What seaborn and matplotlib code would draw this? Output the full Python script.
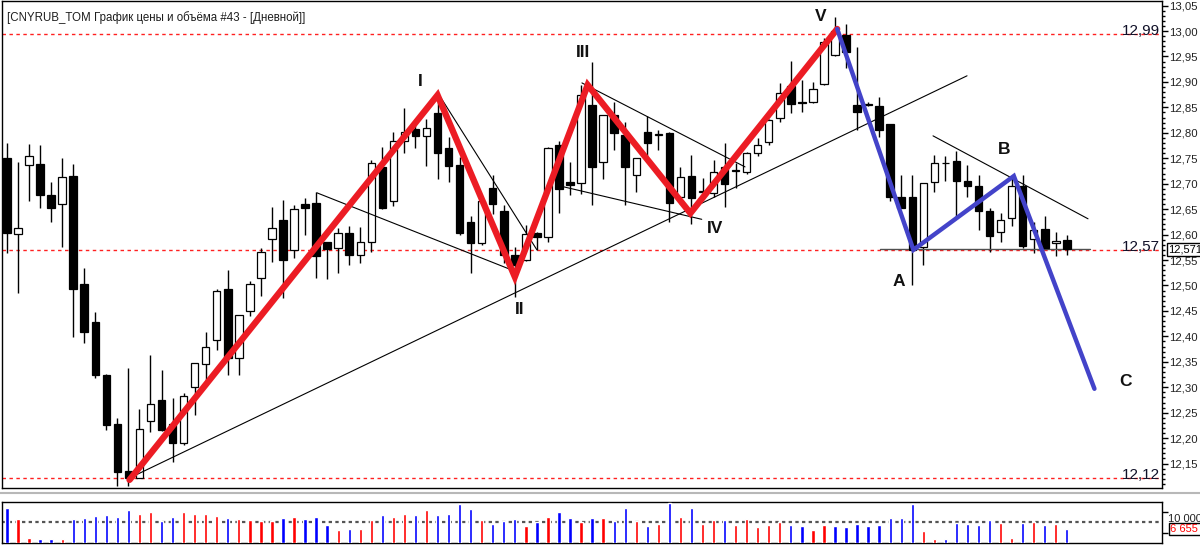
import numpy as np
import pandas as pd
import matplotlib
matplotlib.use("Agg")
import matplotlib.pyplot as plt
import matplotlib.transforms as mtransforms
from matplotlib.lines import Line2D
import seaborn as sns

# ---------------- data ----------------
opens = [12.750, 12.601, 12.737, 12.739, 12.677, 12.661, 12.715, 12.502, 12.428, 12.324,
         12.227, 12.136, 12.121, 12.234, 12.275, 12.227, 12.191, 12.300, 12.346, 12.393,
         12.493, 12.357, 12.450, 12.514, 12.591, 12.629, 12.570, 12.661, 12.663, 12.586,
         12.573, 12.603, 12.559, 12.585, 12.732, 12.665, 12.783, 12.807, 12.794, 12.838,
         12.771, 12.737, 12.625, 12.583, 12.692, 12.646, 12.559, 12.550, 12.603, 12.596,
         12.776, 12.704, 12.701, 12.854, 12.742, 12.835, 12.796, 12.718, 12.801, 12.796,
         12.799, 12.674, 12.716, 12.683, 12.682, 12.733, 12.724, 12.722, 12.761, 12.781,
         12.830, 12.891, 12.861, 12.860, 12.895, 12.953, 12.992, 12.855, 12.857, 12.853,
         12.817, 12.673, 12.673, 12.576, 12.703, 12.741, 12.745, 12.705, 12.696, 12.646,
         12.606, 12.633, 12.695, 12.591, 12.611, 12.583, 12.589]
highs = [12.779, 12.743, 12.778, 12.776, 12.703, 12.750, 12.738, 12.535, 12.447, 12.327,
         12.239, 12.337, 12.257, 12.363, 12.334, 12.278, 12.288, 12.348, 12.408, 12.493,
         12.530, 12.441, 12.509, 12.573, 12.654, 12.668, 12.658, 12.671, 12.684, 12.586,
         12.612, 12.616, 12.614, 12.747, 12.773, 12.802, 12.848, 12.827, 12.828, 12.878,
         12.792, 12.753, 12.637, 12.668, 12.717, 12.658, 12.576, 12.619, 12.606, 12.773,
         12.783, 12.743, 12.894, 12.940, 12.835, 12.861, 12.822, 12.750, 12.833, 12.806,
         12.801, 12.733, 12.756, 12.711, 12.747, 12.779, 12.740, 12.763, 12.789, 12.827,
         12.897, 12.941, 12.904, 12.900, 12.986, 13.028, 13.013, 12.969, 12.860, 12.871,
         12.817, 12.718, 12.718, 12.702, 12.756, 12.754, 12.765, 12.737, 12.718, 12.653,
         12.642, 12.715, 12.717, 12.625, 12.637, 12.606, 12.599]
lows = [12.563, 12.485, 12.666, 12.652, 12.625, 12.575, 12.399, 12.386, 12.318, 12.216,
        12.105, 12.105, 12.121, 12.213, 12.214, 12.154, 12.187, 12.246, 12.311, 12.373,
        12.324, 12.324, 12.440, 12.479, 12.547, 12.475, 12.553, 12.599, 12.514, 12.512,
        12.524, 12.540, 12.545, 12.566, 12.650, 12.656, 12.760, 12.770, 12.735, 12.709,
        12.704, 12.599, 12.524, 12.580, 12.640, 12.545, 12.478, 12.548, 12.570, 12.585,
        12.642, 12.678, 12.680, 12.658, 12.709, 12.766, 12.658, 12.683, 12.753, 12.766,
        12.625, 12.661, 12.621, 12.681, 12.674, 12.655, 12.691, 12.720, 12.754, 12.777,
        12.821, 12.838, 12.841, 12.858, 12.893, 12.950, 12.927, 12.806, 12.852, 12.792,
        12.665, 12.653, 12.500, 12.540, 12.684, 12.706, 12.635, 12.674, 12.609, 12.566,
        12.586, 12.616, 12.573, 12.563, 12.573, 12.557, 12.560]
closes = [12.603, 12.612, 12.754, 12.677, 12.652, 12.713, 12.494, 12.409, 12.324, 12.226,
          12.133, 12.121, 12.217, 12.267, 12.216, 12.191, 12.282, 12.347, 12.380, 12.489,
          12.357, 12.441, 12.502, 12.566, 12.612, 12.551, 12.650, 12.652, 12.558, 12.571,
          12.603, 12.559, 12.585, 12.740, 12.653, 12.783, 12.802, 12.794, 12.810, 12.761,
          12.735, 12.603, 12.583, 12.665, 12.660, 12.559, 12.540, 12.601, 12.596, 12.770,
          12.689, 12.697, 12.874, 12.732, 12.835, 12.800, 12.732, 12.750, 12.779, 12.798,
          12.663, 12.714, 12.671, 12.686, 12.722, 12.700, 12.726, 12.761, 12.776, 12.825,
          12.878, 12.857, 12.858, 12.887, 12.979, 13.000, 12.958, 12.841, 12.855, 12.805,
          12.674, 12.653, 12.570, 12.702, 12.740, 12.740, 12.705, 12.696, 12.646, 12.598,
          12.629, 12.695, 12.578, 12.609, 12.573, 12.588, 12.571]
volume_mln = [16.8, 11.3, 2.2, 1.75, 1.75, 1.75, 11.3, 11.8, 13.1, 13.6,
              12.6, 15.8, 14.1, 15.0, 10.3, 12.3, 15.0, 14.1, 14.1, 13.1,
              11.8, 11.6, 11.0, 10.3, 10.3, 11.8, 12.3, 11.6, 12.3, 8.7,
              6.2, 6.7, 6.7, 11.1, 13.3, 12.3, 14.1, 13.3, 15.6, 13.3,
              13.8, 18.7, 16.1, 10.8, 9.2, 10.3, 11.6, 8.2, 10.0, 12.3,
              14.6, 11.8, 10.0, 12.1, 11.8, 10.3, 16.6, 10.3, 8.2, 9.0,
              19.2, 12.3, 16.6, 9.3, 10.8, 10.8, 8.5, 11.3, 7.7, 8.7,
              10.0, 8.7, 8.2, 6.2, 8.7, 8.2, 7.7, 9.0, 8.2, 8.7,
              11.8, 11.8, 18.5, 5.9, 2.0, 2.0, 9.8, 9.2, 8.7, 10.8,
              9.5, 2.6, 9.8, 10.0, 8.7, 9.2, 6.6554]
volume_side = list("brrbbrbbbbbbrrbbrrrrbrrrrbrbbbrbrrbrrbrbbbbrbbbrbrbbrb"
                   "rbbrbrbrbrrbrrrrrbbrrbbbbbbbbrrbbbbbrrbrbrb")

# Elliott wave pivots (candle index, price)
wave_names = ["", "I", "II", "III", "IV", "V", "A", "B", "C"]
wave_idx = [11.1, 39.0, 46.0, 52.6, 61.9, 75.2, 82.1, 91.2, 98.5]
wave_price = [12.118, 12.874, 12.517, 12.894, 12.642, 13.004, 12.570, 12.715, 12.297]

# thin trend lines: (idx0, price0, idx1, price1)
trend_lines = [
    (11.14, 12.122, 86.96, 12.912),
    (28.08, 12.682, 46.01, 12.528),
    (39.04, 12.878, 48.00, 12.570),
    (52.08, 12.898, 66.85, 12.733),
    (50.39, 12.694, 62.93, 12.630),
    (83.88, 12.794, 97.92, 12.631),
]

level_prices = [12.995, 12.570, 12.122]
level_labels = ["12,99", "12,57", "12,12"]
last_price = 12.571
last_volume_label = "6 655 400"
title = "[CNYRUB_TOM График цены и объёма #43 - [Дневной]]"

# ---------------- style ----------------
sns.set_style("white")
plt.rcParams["font.family"] = ["Liberation Sans", "DejaVu Sans"]

W, H = 1200, 547
fig = plt.figure(figsize=(W / 100, H / 100), dpi=100)
fig.patch.set_facecolor("white")


def box(x0, y0, x1, y1):
    return [x0 / W, 1 - y1 / H, (x1 - x0) / W, (y1 - y0) / H]


ax = fig.add_axes(box(2, 1, 1162, 488))
axv = fig.add_axes(box(2, 502, 1162, 543))

n = len(opens)
idx = np.arange(n)
o = np.array(opens)
h = np.array(highs)
l = np.array(lows)
c = np.array(closes)
up = c >= o

XMIN, XMAX = -0.45, 104.62

# ---------------- candles ----------------
ax.vlines(idx, l, h, color="black", lw=1.0, zorder=2)
body_lo = np.minimum(o, c)
body_h = np.maximum(np.abs(c - o), 0.0012)
ax.bar(idx, body_h, bottom=body_lo, width=0.68,
       color=np.where(up, "white", "black"), edgecolor="black",
       linewidth=0.9, zorder=3)

# levels
for p in level_prices:
    ax.axhline(p, color="#ff2020", lw=1.0, ls=(0, (2.5, 2.5)), zorder=1)
ax.plot([79.1, 98.1], [12.571, 12.571], color="#505050", lw=1.0, zorder=2)

# trend lines
for (x0, y0, x1, y1) in trend_lines:
    ax.plot([x0, x1], [y0, y1], color="black", lw=0.8, zorder=4)

# wave lines
wave_df = pd.DataFrame({"i": wave_idx, "p": wave_price})
sns.lineplot(data=wave_df.iloc[:6], x="i", y="p", sort=False, color="#ec1c24",
             lw=4.6, ax=ax, zorder=5, solid_capstyle="round", solid_joinstyle="miter")
sns.lineplot(data=wave_df.iloc[5:], x="i", y="p", sort=False, color="#4343c9",
             lw=3.2, ax=ax, zorder=5, solid_capstyle="round", solid_joinstyle="miter")

label_off = {"I": (-17, 14), "II": (5, -33), "III": (-5, 32), "IV": (25, -15),
             "V": (-17, 12), "A": (-15, -32), "B": (-10, 27), "C": (31, 7)}
for name, xi, pi in zip(wave_names, wave_idx, wave_price):
    if not name:
        continue
    ax.annotate(name, (xi, pi), xytext=label_off[name], textcoords="offset pixels",
                ha="center", va="center", fontsize=12.5, fontweight="bold",
                color="#111111", zorder=6)

ax.set_xlim(XMIN, XMAX)
ax.set_ylim(12.102, 13.059)
ax.set_xticks([])
ax.yaxis.tick_right()
ax.set_yticks(np.round(np.arange(12.15, 13.0501, 0.05), 2))
ax.set_yticks(np.round(np.arange(12.11, 13.0501, 0.01), 2), minor=True)
ax.yaxis.set_major_formatter(plt.FuncFormatter(lambda v, _: f"{v:.2f}".replace(".", ",")))
ax.tick_params(axis="y", which="major", length=4, width=1, color="black",
               labelsize=8.2, labelcolor="#222222", pad=1)
ax.tick_params(axis="y", which="minor", length=2, width=1, color="black")
ax.set_xlabel("")
ax.set_ylabel("")
for s in ax.spines.values():
    s.set_color("black")
    s.set_linewidth(1.0)

blend = mtransforms.blended_transform_factory(ax.transAxes, ax.transData)
for p, lab in zip(level_prices, level_labels):
    ax.annotate(lab, (1, p), xycoords=blend, xytext=(-2, 3), textcoords="offset pixels",
                ha="right", va="center", fontsize=11, color="#101028", zorder=6)
ax.annotate(f"{last_price:.3f}".replace(".", ","), (1, last_price), xycoords=blend,
            xytext=(6, 0), textcoords="offset pixels", ha="left", va="center",
            fontsize=8, color="black", annotation_clip=False,
            bbox=dict(boxstyle="square,pad=0.12", fc="white", ec="black", lw=1))

fig.text(7 / W, 1 - 18 / H, title, fontsize=8.3, color="#1e1e1e", ha="left", va="center")

# ---------------- volume ----------------
vdf = pd.DataFrame({"i": idx, "v": volume_mln, "side": volume_side})
sns.barplot(data=vdf, x="i", y="v", hue="side", palette={"b": "#0000ff", "r": "#ff0000"},
            native_scale=True, dodge=False, width=0.3, errorbar=None, legend=False,
            saturation=1, ax=axv, zorder=3)
axv.axhline(10, color="#555555", lw=1.6, ls=(0, (1.5, 1.5)), zorder=2)
axv.set_xlim(XMIN, XMAX)
axv.set_ylim(0, 19.6)
axv.set_xticks([])
axv.yaxis.tick_right()
axv.set_yticks([5, 15])
axv.set_yticklabels([])
axv.tick_params(axis="y", length=4, width=1, color="black")
axv.set_xlabel("")
axv.set_ylabel("")
for s in axv.spines.values():
    s.set_color("black")
    s.set_linewidth(1.0)
vblend = mtransforms.blended_transform_factory(axv.transAxes, axv.transData)
axv.annotate("10 000 000", (1, 10), xycoords=vblend, xytext=(6, 3), textcoords="offset pixels",
             ha="left", va="center", fontsize=8, color="#222222", annotation_clip=False)
axv.annotate(last_volume_label, (1, volume_mln[-1]), xycoords=vblend, xytext=(8, 0),
             textcoords="offset pixels", ha="left", va="center", fontsize=8,
             color="#ff0000", annotation_clip=False,
             bbox=dict(boxstyle="square,pad=0.12", fc="white", ec="black", lw=1))

fig.add_artist(Line2D([0, 1], [1 - 493 / H] * 2, transform=fig.transFigure,
                      color="#b8b8b8", lw=1.5))

fig.savefig("out.png", dpi=100, facecolor="white")
